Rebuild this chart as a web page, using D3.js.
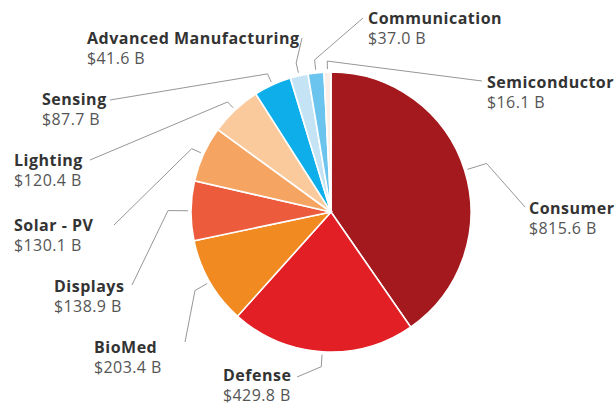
<!DOCTYPE html>
<html>
<head>
<meta charset="utf-8">
<script src="https://cdn.jsdelivr.net/npm/d3@7"></script>
<style>
  html, body { margin: 0; padding: 0; background: #fff; }
  .name { font-family: "Open Sans", sans-serif; font-weight: 700; fill: #333; letter-spacing: 0.5px; }
  .value { font-family: "Open Sans", sans-serif; font-weight: 400; fill: #555; letter-spacing: 0.4px; }
</style>
</head>
<body>
<div id="chart"></div>
<script>
// market segments, clockwise from 12 o'clock
const categories = ["Consumer", "Defense", "BioMed", "Displays", "Solar - PV",
  "Lighting", "Sensing", "Advanced Manufacturing", "Communication", "Semiconductor"];
const values = [815.6, 429.8, 203.4, 138.9, 130.1, 120.4, 87.7, 41.6, 37.0, 16.1];
const colors = ["#a3191d", "#e31f26", "#f08a21", "#ec5b3b", "#f6a462",
  "#fbca9c", "#0daeea", "#c4e4f6", "#6ac4ee", "#fcefe9"];

// label layout: name baseline position and where the leader line leaves the label
const labelPos = [
  {x: 529, y: 214, lx: 525, ly: 207, elbow: 20},
  {x: 223, y: 381, lx: 297, ly: 377, elbow: 12},
  {x: 94,  y: 353, lx: 185, ly: 342, elbow: 14},
  {x: 54,  y: 292, lx: 132, ly: 285, elbow: 20},
  {x: 14,  y: 231, lx: 114, ly: 225, elbow: 10},
  {x: 14,  y: 166, lx: 90,  ly: 160, elbow: 8},
  {x: 42,  y: 105, lx: 110, ly: 100, elbow: 9},
  {x: 87,  y: 44,  lx: 302, ly: 38,  elbow: 10},
  {x: 368, y: 24,  lx: 363, ly: 18,  elbow: 10},
  {x: 487, y: 88,  lx: 482, ly: 81,  elbow: 8}
];

const width = 616, height = 407;
const cx = 331, cy = 212, radius = 140;

const data = categories.map((c, i) => ({name: c, value: values[i], color: colors[i], pos: labelPos[i]}));

const svg = d3.select("#chart").append("svg")
  .attr("width", width)
  .attr("height", height);

const pie = d3.pie().value(d => d.value).sort(null);
const arc = d3.arc().innerRadius(0).outerRadius(radius);
const arcs = pie(data);

const g = svg.append("g").attr("transform", `translate(${cx},${cy})`);

g.selectAll("path.slice")
  .data(arcs)
  .enter().append("path")
  .attr("class", "slice")
  .attr("d", arc)
  .attr("fill", d => d.data.color)
  .attr("stroke", "#fff")
  .attr("stroke-width", 1.6);

// leader lines: label -> elbow -> pie edge
function pointAt(a, r) {
  return [cx + Math.sin(a) * r, cy - Math.cos(a) * r];
}

svg.append("g").attr("class", "leaders")
  .selectAll("polyline")
  .data(arcs)
  .enter().append("polyline")
  .attr("points", d => {
    const mid = (d.startAngle + d.endAngle) / 2;
    const p = d.data.pos;
    const anchor = pointAt(mid, radius + 3);
    const elbow = pointAt(mid, radius + 3 + p.elbow);
    return [[p.lx, p.ly], elbow, anchor].map(q => q.join(",")).join(" ");
  })
  .attr("fill", "none")
  .attr("stroke", "#8a8a8a")
  .attr("stroke-width", 0.9);

const labels = svg.append("g").attr("class", "labels")
  .selectAll("g")
  .data(data)
  .enter().append("g")
  .attr("transform", d => `translate(${d.pos.x},${d.pos.y})`);

labels.append("text")
  .attr("class", "name")
  .style("font-size", "16px")
  .text(d => d.name);

labels.append("text")
  .attr("class", "value")
  .attr("y", 20)
  .style("font-size", "16px")
  .text(d => `$${d.value.toFixed(1)} B`);
</script>
</body>
</html>
